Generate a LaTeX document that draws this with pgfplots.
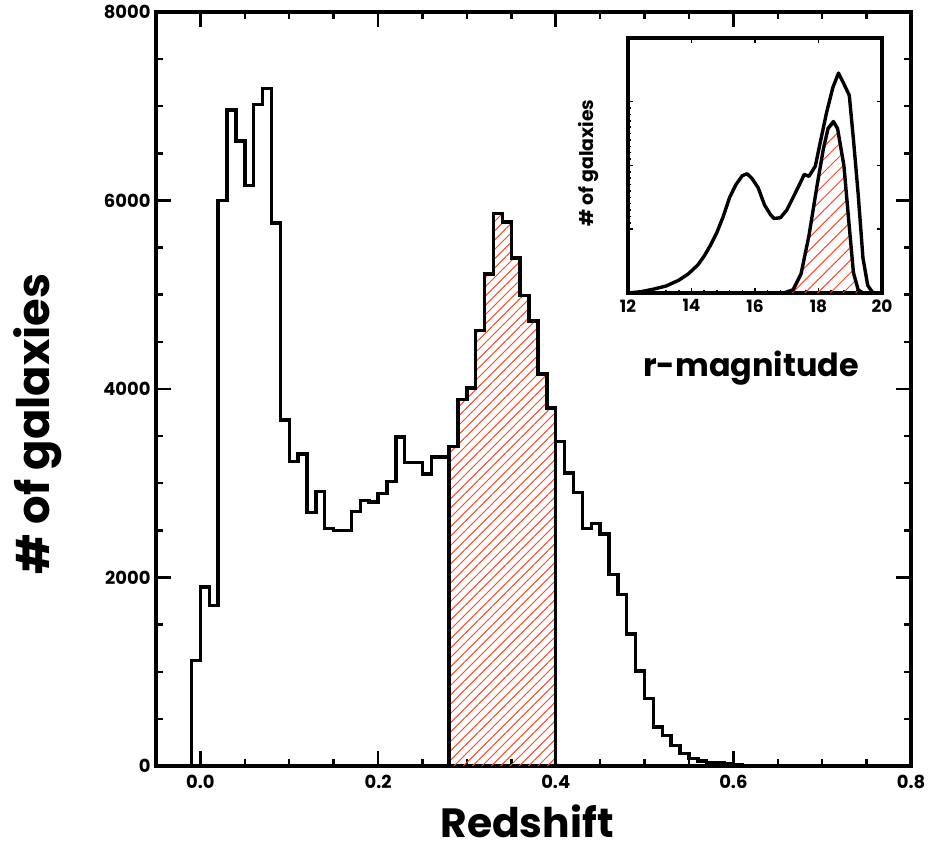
\documentclass[border=0pt]{standalone}
\usepackage{fontspec}
\setmainfont{Poppins}
\usepackage{pgfplots}
\pgfplotsset{compat=1.18}
\usetikzlibrary{patterns.meta}
\definecolor{hatchred}{RGB}{255,70,40}
\newcommand\fs[1]{\fontsize{#1}{#1}\selectfont\bfseries}
\begin{document}
\begin{tikzpicture}
\begin{axis}[
  at={(0,0)}, anchor=south west,
  scale only axis, width=755bp, height=754bp,
  xmin=-0.05, xmax=0.8, ymin=0, ymax=8000,
  xtick={0,0.2,0.4,0.6,0.8}, xticklabels={0.0,0.2,0.4,0.6,0.8},
  ytick={0,2000,4000,6000,8000}, yticklabels={0,2000,4000,6000,8000},
  minor x tick num=3, minor y tick num=3,
  tick align=inside, xtick pos=both, ytick pos=both,
  major tick length=15bp, minor tick length=7bp,
  tick style={line width=2.5bp, black},
  axis line style={line width=3.2bp},
  tick label style={font=\fs{18}, /pgf/number format/assume math mode=true},
  xticklabel style={yshift=-6bp},
  yticklabel style={xshift=-2bp},
]
\addplot[const plot, draw=none, pattern={Lines[angle=45,distance=6.6bp,line width=1bp]}, pattern color=hatchred] table {
x y
0.28 3390
0.29 3890
0.30 4010
0.31 4620
0.32 5220
0.33 5860
0.34 5770
0.35 5390
0.36 4990
0.37 4720
0.38 4160
0.39 3800
0.40 3800
} \closedcycle;
\addplot[black, line width=3.4bp] coordinates {(0.28,0) (0.28,3390)};
\addplot[black, line width=3.4bp] coordinates {(0.40,0) (0.40,3800)};
\addplot[const plot, black, line width=3.4bp, line join=miter] table {
x y
-0.01 0
-0.01 1120
0.00 1900
0.01 1700
0.02 6000
0.03 6960
0.04 6630
0.05 6160
0.06 7020
0.07 7190
0.08 5760
0.09 3670
0.10 3230
0.11 3310
0.12 2690
0.13 2910
0.14 2520
0.15 2500
0.16 2500
0.17 2700
0.18 2820
0.19 2800
0.20 2890
0.21 3020
0.22 3490
0.23 3220
0.24 3220
0.25 3100
0.26 3280
0.27 3280
0.28 3390
0.29 3890
0.30 4010
0.31 4620
0.32 5220
0.33 5860
0.34 5770
0.35 5390
0.36 4990
0.37 4720
0.38 4160
0.39 3800
0.40 3440
0.41 3110
0.42 2900
0.43 2520
0.44 2570
0.45 2460
0.46 2030
0.47 1820
0.48 1400
0.49 1010
0.50 715
0.51 415
0.52 325
0.53 220
0.54 130
0.55 80
0.56 55
0.57 35
0.58 30
0.59 20
0.60 10
0.61 8
0.62 5
0.63 3
0.64 2
0.65 0
0.80 0
};
\end{axis}
\begin{axis}[
  at={(472bp,473bp)}, anchor=south west,
  scale only axis, width=254bp, height=255bp,
  xmin=12, xmax=20, ymin=0, ymax=4,
  xtick={12,14,16,18,20}, xticklabels={12,14,16,18,20},
  ytick={1,2,3}, yticklabels={},
  minor x tick num=4, minor y tick num=9,
  tick align=inside, xtick pos=both, ytick pos=both,
  major tick length=5bp, minor tick length=2.5bp,
  tick style={line width=1.5bp, black},
  axis line style={line width=3.2bp},
  tick label style={font=\fs{17}, /pgf/number format/assume math mode=true},
  xticklabel style={yshift=-3bp},
]
\addplot[draw=none, pattern={Lines[angle=45,distance=9bp,line width=1bp]}, pattern color=hatchred] table {
x y
16.9 0
17.2 0.05
17.45 0.30
17.7 0.90
17.95 1.67
18.15 2.25
18.3 2.58
18.47 2.69
18.6 2.58
18.8 2.00
18.95 1.15
19.1 0.32
19.25 0.05
19.4 0
} \closedcycle;
\addplot[black, line width=3.4bp, line join=round] table {
x y
16.9 0
17.2 0.05
17.45 0.30
17.7 0.90
17.95 1.67
18.15 2.25
18.3 2.58
18.47 2.69
18.6 2.58
18.8 2.00
18.95 1.15
19.1 0.32
19.25 0.05
19.4 0
};
\addplot[black, line width=3.4bp, line join=round] table {
x y
12.0 0
12.4 0.02
12.8 0.06
13.2 0.11
13.6 0.20
13.9 0.30
14.2 0.44
14.4 0.58
14.6 0.75
14.8 0.95
15.0 1.20
15.2 1.50
15.4 1.70
15.6 1.84
15.75 1.87
15.9 1.80
16.1 1.65
16.3 1.38
16.5 1.22
16.6 1.17
16.8 1.18
17.0 1.30
17.2 1.50
17.4 1.70
17.55 1.86
17.7 1.83
17.9 1.99
18.05 2.35
18.25 2.82
18.45 3.22
18.63 3.45
18.8 3.28
18.97 3.10
19.1 2.41
19.25 1.55
19.4 0.55
19.55 0.12
19.7 0.01
19.85 0
20 0
};
\end{axis}
\node[rotate=90, font=\fs{45}] at (-118bp,342bp) {\# of galaxies};
\node[font=\fs{41}, anchor=base] at (371bp,-71bp) {Redshift};
\node[font=\fs{32}] at (595bp,398bp) {r-magnitude};
\node[rotate=90, font=\fs{19}] at (433bp,603bp) {\# of galaxies};
\pgfresetboundingbox
\path[use as bounding box] (-156bp,-90bp) rectangle (777bp,766bp);
\end{tikzpicture}
\end{document}
